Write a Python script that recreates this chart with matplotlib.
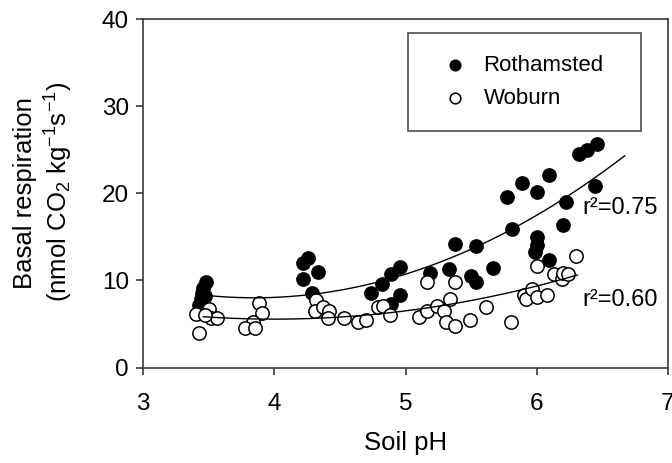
import numpy as np
import matplotlib
matplotlib.use("Agg")
import matplotlib.pyplot as plt

plt.rcParams['font.family'] = ['Liberation Sans', 'DejaVu Sans']
plt.rcParams['mathtext.fontset'] = 'custom'
plt.rcParams['mathtext.rm'] = 'Liberation Sans'
plt.rcParams['mathtext.it'] = 'Liberation Sans:italic'

# Rothamsted soils: pH and basal respiration
roth_ph = [3.43, 3.44, 3.45, 3.46, 3.48, 3.47,
           4.26, 4.22, 4.33, 4.22, 4.29,
           4.74, 4.82, 4.89, 4.96, 4.96, 4.89,
           5.19, 5.33, 5.38, 5.54, 5.50, 5.54, 5.67,
           5.77, 5.81, 5.89, 6.00, 6.09, 6.00, 6.00, 5.99, 6.09,
           6.22, 6.20, 6.44, 6.32, 6.38, 6.46]
roth_resp = [7.2, 7.9, 8.5, 9.1, 9.8, 8.2,
             12.6, 12.0, 11.0, 10.2, 8.6,
             8.6, 9.6, 10.7, 11.5, 8.3, 7.3,
             10.9, 11.3, 14.2, 13.9, 10.5, 9.8, 11.4,
             19.6, 15.9, 21.2, 20.1, 22.1, 15.0, 14.1, 13.2, 12.3,
             19.0, 16.3, 20.8, 24.5, 25.0, 25.7]

# Woburn soils: pH and basal respiration
wob_ph = [3.40, 3.43, 3.50, 3.52, 3.56, 3.47,
          3.88, 3.91, 3.84, 3.78, 3.85,
          4.32, 4.31, 4.37, 4.42, 4.41, 4.53, 4.64, 4.70,
          4.79, 4.83, 4.88, 5.10, 5.16, 5.24, 5.29, 5.34, 5.31, 5.38,
          5.49, 5.61, 5.16, 5.38, 5.80, 5.90, 5.92, 5.96, 6.00, 6.08,
          6.00, 6.13, 6.19, 6.20, 6.24, 6.30]
wob_resp = [6.1, 4.0, 6.7, 5.7, 5.7, 6.0,
            7.4, 6.2, 5.2, 4.5, 4.5,
            7.8, 6.5, 6.9, 6.5, 5.7, 5.7, 5.2, 5.4,
            6.9, 7.1, 6.0, 5.8, 6.5, 7.1, 6.5, 7.9, 5.2, 4.8,
            5.4, 6.9, 9.8, 9.8, 5.2, 8.3, 7.9, 9.0, 8.1, 8.3,
            11.7, 10.7, 10.2, 10.9, 10.7, 12.8]

# Quadratic fits, vertex form: y = a*(x - h)**2 + k, drawn over [x_start, x_end]
roth_fit = dict(a=2.05, h=3.85, k=8.0, x_start=3.48, x_end=6.67, r2="0.75")
wob_fit = dict(a=0.95, h=4.0, k=5.55, x_start=3.46, x_end=6.31, r2="0.60")

x_ticks = [3, 4, 5, 6, 7]
y_ticks = [0, 10, 20, 30, 40]

fig = plt.figure(figsize=(6.72, 4.63), dpi=100)
ax = fig.add_axes([143 / 672, 1 - 367.5 / 463, 525 / 672, 348.5 / 463])

spine_col = '#3a3a3a'
for s in ax.spines.values():
    s.set_color(spine_col)
    s.set_linewidth(1.2)

ax.scatter(roth_ph, roth_resp, s=92, facecolor='black', edgecolor='black',
           linewidths=1.0, zorder=3, label='Rothamsted')
ax.scatter(wob_ph, wob_resp, s=92, facecolor='white', edgecolor='black',
           linewidths=1.1, zorder=4, label='Woburn')

for fit in (roth_fit, wob_fit):
    xs = np.linspace(fit['x_start'], fit['x_end'], 200)
    ys = fit['a'] * (xs - fit['h']) ** 2 + fit['k']
    ax.plot(xs, ys, color='black', lw=1.0, zorder=5)

ax.text(6.345, 18.3, "r\u00b2=" + roth_fit['r2'], fontsize=17, ha='left', va='center')
ax.text(6.345, 7.7, "r\u00b2=" + wob_fit['r2'], fontsize=17, ha='left', va='center')

ax.set_xlim(3, 7)
ax.set_ylim(0, 40)
ax.set_xticks(x_ticks)
ax.set_yticks(y_ticks)
ax.tick_params(direction='out', length=5, width=1.2, color=spine_col,
               labelsize=17.5)
ax.tick_params(axis='x', pad=13)
ax.tick_params(axis='y', pad=5)

ax.set_xlabel('Soil pH', fontsize=18.5, labelpad=12)
fig.text(25 / 672, 1 - 193 / 463, 'Basal respiration', rotation=90,
         fontsize=18.5, ha='center', va='center')
fig.text(59 / 672, 1 - 192 / 463, '(nmol CO$_2$ kg$^{-1}$s$^{-1}$)', rotation=90,
         fontsize=18.5, ha='center', va='center')

leg = ax.legend(loc='upper left', bbox_to_anchor=(0.505, 0.687, 0.444, 0.273),
                mode='expand', borderaxespad=0, fontsize=16, frameon=True,
                fancybox=False, borderpad=1.0, labelspacing=0.52,
                handlelength=2.25, handletextpad=0.14, markerscale=0.8)
leg.get_frame().set_edgecolor('#222222')
leg.get_frame().set_linewidth(1.2)

fig.savefig('out.png', dpi=100)
